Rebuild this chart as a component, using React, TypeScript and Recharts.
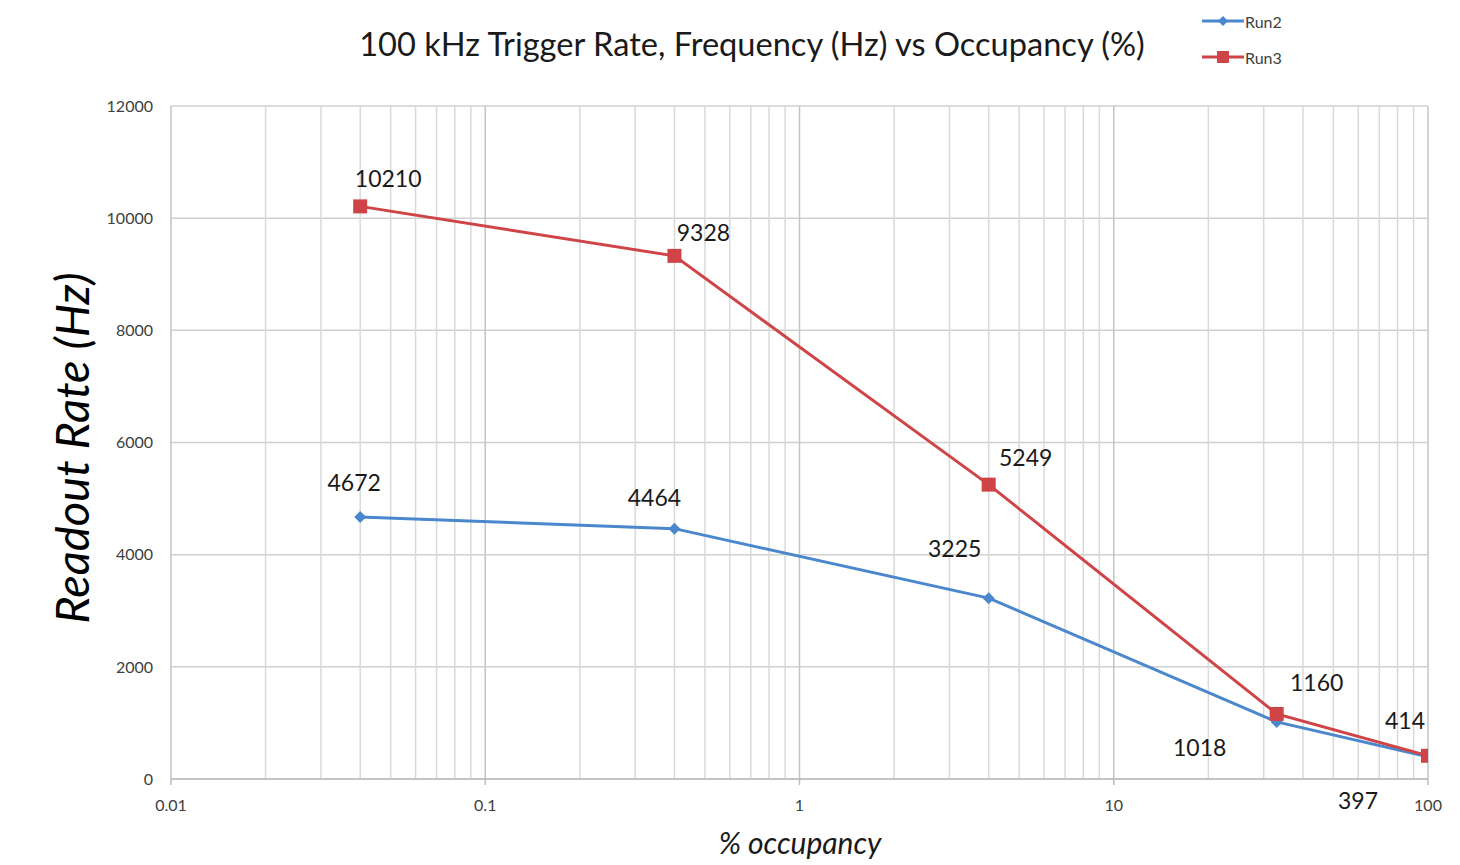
import { LineChart, Line, XAxis, YAxis, CartesianGrid, ReferenceLine, LabelList } from 'recharts';

const occupancy = [0.04, 0.4, 4, 33, 100];
const run2 = [4672, 4464, 3225, 1018, 397];
const run3 = [10210, 9328, 5249, 1160, 414];
const xTicks = [0.01, 0.1, 1, 10, 100];
const yTicks = [0, 2000, 4000, 6000, 8000, 10000, 12000];

// label offsets relative to each point (dx, dy)
const run2LabelOffsets = [[-6, -35], [-20, -32], [-34, -50], [-77, 25], [-70, 43]];
const run3LabelOffsets = [[28, -28], [29, -24], [37, -28], [40, -32], [-23, -36]];

const BLUE = '#4A87CD';
const RED = '#CF4446';
const FONT = 'Lato, "Open Sans", sans-serif';

const minorGrid: number[] = [];
for (const d of [0.01, 0.1, 1, 10]) for (let k = 2; k <= 9; k++) minorGrid.push(+(d * k).toFixed(4));

const data = occupancy.map((x, i) => ({ x, run2: run2[i], run3: run3[i] }));

const Diamond = (props: any) => {
  const { cx, cy } = props;
  if (cx == null || cy == null) return null;
  return <path d={`M${cx},${cy - 6}L${cx + 6},${cy}L${cx},${cy + 6}L${cx - 6},${cy}Z`} fill={BLUE} />;
};

const Square = (props: any) => {
  const { cx, cy } = props;
  if (cx == null || cy == null) return null;
  return <rect x={cx - 7} y={cy - 7} width={14} height={14} fill={RED} />;
};

const makeLabel = (offsets: number[][]) => (props: any) => {
  const { x, y, value, index } = props;
  const [dx, dy] = offsets[index] || [0, 0];
  return (
    <text x={x + dx} y={y + dy} textAnchor="middle" dominantBaseline="central" fontSize={23} fill="#1a1a1a" fontFamily={FONT}>
      {value}
    </text>
  );
};

const legendItems = [
  { name: 'Run2', color: BLUE, marker: 'diamond' },
  { name: 'Run3', color: RED, marker: 'square' },
];

export default function App() {
  return (
    <div style={{ position: 'absolute', left: 0, top: 0, width: 1460, height: 865, background: '#fff', fontFamily: FONT }}>
      <div style={{ position: 'absolute', left: 752, top: 43, transform: 'translate(-50%, -50%)', whiteSpace: 'nowrap', fontSize: 32.6, color: '#1a1a1a' }}>
        100 kHz Trigger Rate, Frequency (Hz) vs Occupancy (%)
      </div>
      <div style={{ position: 'absolute', left: 71, top: 448, transform: 'translate(-50%, -50%) rotate(-90deg)', whiteSpace: 'nowrap', fontSize: 47, fontStyle: 'italic', color: '#000' }}>
        Readout Rate (Hz)
      </div>
      <div style={{ position: 'absolute', left: 800, top: 842, transform: 'translate(-50%, -50%)', whiteSpace: 'nowrap', fontSize: 30, fontStyle: 'italic', color: '#1a1a1a' }}>
        % occupancy
      </div>
      <div style={{ position: 'absolute', left: 1202, top: 3, fontSize: 16, color: '#404040' }}>
        {legendItems.map(s => (
          <div key={s.name} style={{ display: 'flex', alignItems: 'center', height: 36 }}>
            <svg width={42} height={16}>
              <line x1={0} y1={8} x2={42} y2={8} stroke={s.color} strokeWidth={3} />
              {s.marker === 'diamond'
                ? <path d="M21,3L26,8L21,13L16,8Z" fill={s.color} />
                : <rect x={15} y={2} width={12} height={12} fill={s.color} />}
            </svg>
            <span style={{ marginLeft: 1 }}>{s.name}</span>
          </div>
        ))}
      </div>
      <LineChart width={1460} height={865} data={data} margin={{ top: 106, right: 32, left: 91, bottom: 56 }}>
        <CartesianGrid vertical={false} stroke="#d0d0d0" strokeWidth={1.5} />
        {minorGrid.map(v => (
          <ReferenceLine key={v} x={v} stroke="#d9d9d9" strokeWidth={1.5} />
        ))}
        {xTicks.map(v => (
          <ReferenceLine key={'m' + v} x={v} stroke="#c4c4c4" strokeWidth={1.5} />
        ))}
        <XAxis
          dataKey="x"
          type="number"
          scale="log"
          domain={[0.01, 100]}
          ticks={xTicks}
          tickFormatter={(v: number) => String(v)}
          height={30}
          stroke="#bdbdbd"
          strokeWidth={1.5}
          tickSize={6}
          tickMargin={15}
          tick={{ fill: '#404040', fontSize: 16, fontFamily: FONT }}
          allowDataOverflow
        />
        <YAxis
          type="number"
          domain={[0, 12000]}
          ticks={yTicks}
          width={80}
          axisLine={false}
          tickLine={false}
          tickSize={0}
          tickMargin={18}
          tick={{ fill: '#404040', fontSize: 16, fontFamily: FONT }}
        />
        <Line dataKey="run2" name="Run2" stroke={BLUE} strokeWidth={3} dot={<Diamond />} activeDot={false} isAnimationActive={false}>
          <LabelList dataKey="run2" content={makeLabel(run2LabelOffsets)} />
        </Line>
        <Line dataKey="run3" name="Run3" stroke={RED} strokeWidth={3} dot={<Square />} activeDot={false} isAnimationActive={false}>
          <LabelList dataKey="run3" content={makeLabel(run3LabelOffsets)} />
        </Line>
      </LineChart>
    </div>
  );
}
